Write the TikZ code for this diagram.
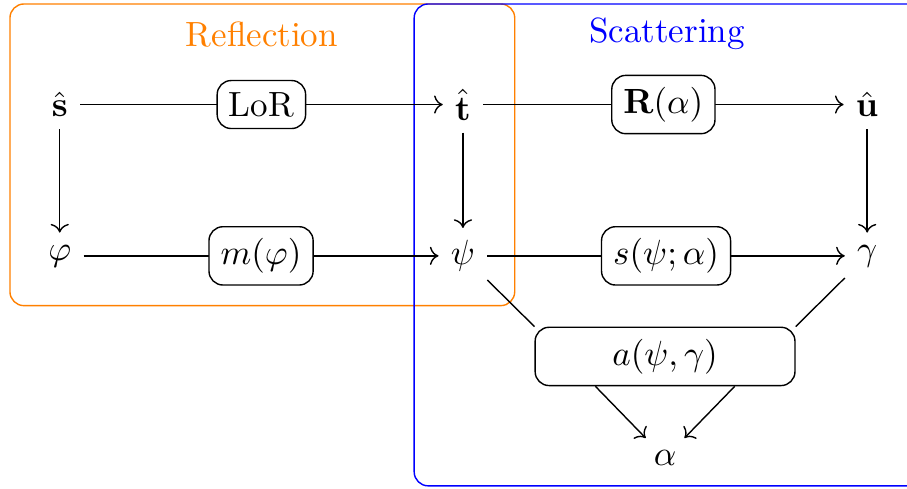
\documentclass[tikz,border=0pt]{standalone}
\usepackage{amsmath,amssymb}
\usetikzlibrary{arrows.meta,positioning,calc}

\begin{document}
\begin{tikzpicture}[
  box/.style={draw,rounded corners,fill=white},
  ar/.style={->},
  grp/.style={draw,rounded corners},
  ttl/.style={anchor=base,inner sep=0pt}
]
\useasboundingbox (0,0) rectangle (9.11,-4.91);

\draw[grp,orange] (0.10,-0.04) rectangle (5.17,-3.07);
\draw[grp,blue]   (4.16,-0.04) rectangle (9.40,-4.88);
\node[ttl,orange] (refl) at (2.63,-0.468) {Reflection};
\node[ttl,blue]   (scat) at (6.70,-0.428) {Scattering};

\node (s)     at (0.60,-1.05) {$\hat{\mathbf{s}}$};
\node (t)     at (4.65,-1.05) {$\hat{\mathbf{t}}$};
\node (u)     at (8.71,-1.05) {$\hat{\mathbf{u}}$};
\node (phi)   at (0.60,-2.57) {$\varphi$};
\node (psi)   at (4.65,-2.57) {$\psi$};
\node (gam)   at (8.71,-2.57) {$\gamma$};
\node[box,minimum width=2.61cm] (a) at (6.68,-3.58) {$a(\psi,\gamma)$};
\node (alpha) at (6.68,-4.60) {$\alpha$};

\draw[ar] (s) -- node[box] (lor) {LoR} (t);
\draw[ar] (t) -- node[box] (rot) {$\mathbf{R}(\alpha)$} (u);
\draw[ar] (phi) -- node[box] (mphi) {$m(\varphi)$} (psi);
\draw[ar] (psi) -- node[box] (spsi) {$s(\psi;\alpha)$} (gam);

\draw[ar] (s) -- (phi);
\draw[ar] (t) -- (psi);
\draw[ar] (u) -- (gam);

\draw (psi) -- (a.north west);
\draw (gam) -- (a.north east);
\coordinate (al) at ($(a.south)+(-0.70,0)$);
\coordinate (ar) at ($(a.south)+(0.70,0)$);
\draw[ar] (al) -- (alpha);
\draw[ar] (ar) -- (alpha);
\end{tikzpicture}
\end{document}
